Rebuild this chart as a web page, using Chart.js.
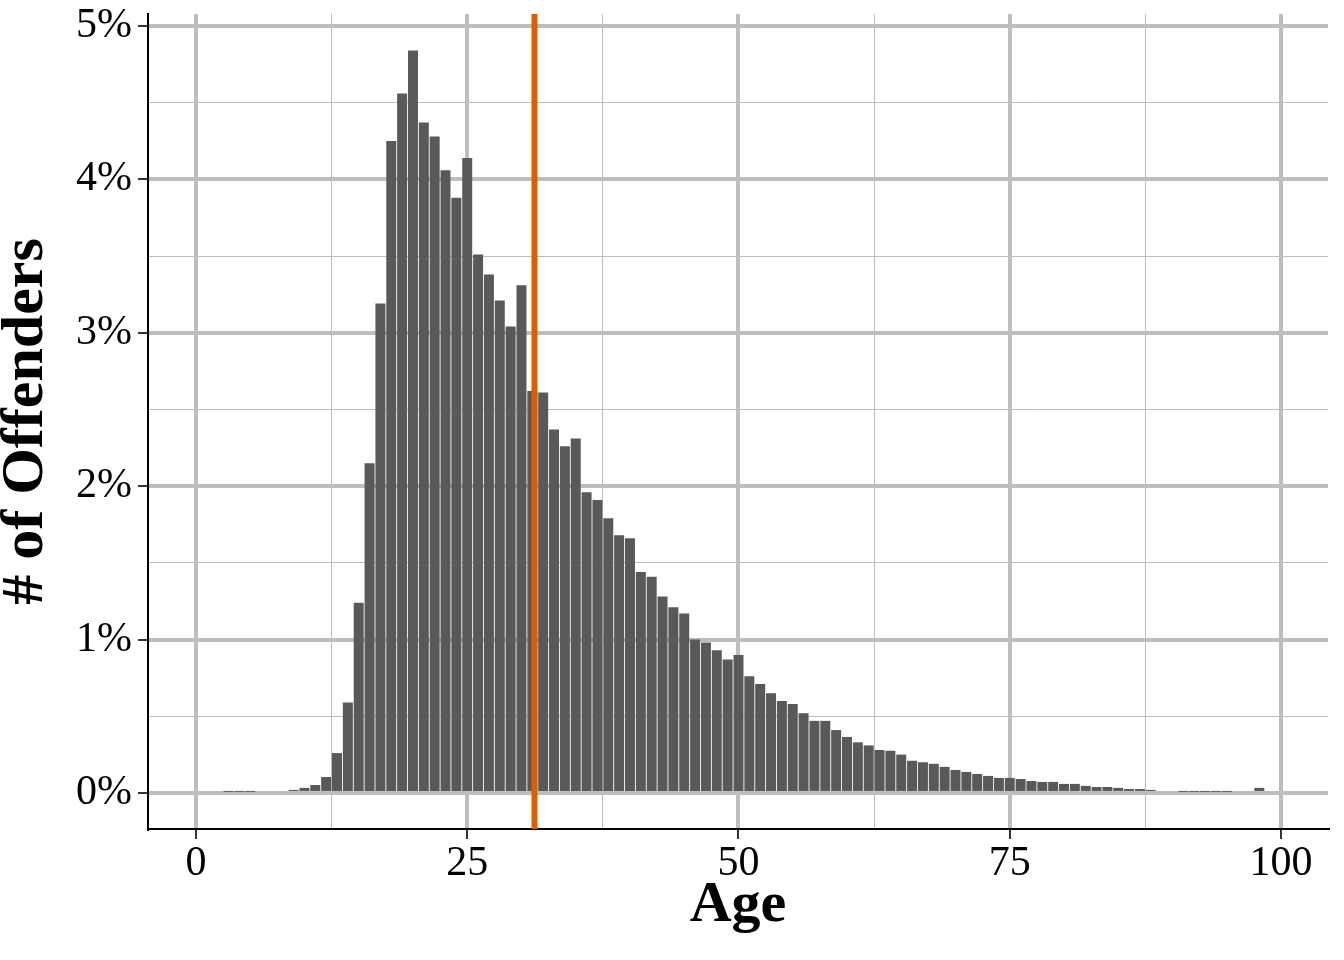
<!DOCTYPE html>
<html>
<head>
<meta charset="utf-8">
<script src="https://cdn.jsdelivr.net/npm/chart.js@4"></script>
<style>
  html, body { margin: 0; padding: 0; background: #fff; }
  canvas { display: block; }
</style>
</head>
<body>
<canvas id="ageChart" width="1344" height="960"></canvas>
<script>
// Offender age distribution (share of offenders, in percent)
const ages = [
  1, 2, 3, 4, 5, 6, 7, 8, 9, 10,
  11, 12, 13, 14, 15, 16, 17, 18, 19, 20,
  21, 22, 23, 24, 25, 26, 27, 28, 29, 30,
  31, 32, 33, 34, 35, 36, 37, 38, 39, 40,
  41, 42, 43, 44, 45, 46, 47, 48, 49, 50,
  51, 52, 53, 54, 55, 56, 57, 58, 59, 60,
  61, 62, 63, 64, 65, 66, 67, 68, 69, 70,
  71, 72, 73, 74, 75, 76, 77, 78, 79, 80,
  81, 82, 83, 84, 85, 86, 87, 88, 89, 90,
  91, 92, 93, 94, 95, 96, 97, 98
];
const offenderShare = [
  0.013, 0, 0.007, 0.007, 0.007, 0.013, 0.013, 0.013, 0.02, 0.033,
  0.052, 0.104, 0.26, 0.59, 1.24, 2.15, 3.19, 4.25, 4.56, 4.84,
  4.37, 4.28, 4.06, 3.88, 4.14, 3.51, 3.38, 3.21, 3.04, 3.31,
  2.62, 2.61, 2.37, 2.26, 2.31, 1.96, 1.91, 1.79, 1.68, 1.66,
  1.44, 1.41, 1.28, 1.21, 1.17, 1.00, 0.98, 0.93, 0.87, 0.90,
  0.76, 0.71, 0.65, 0.60, 0.58, 0.52, 0.47, 0.47, 0.41, 0.365,
  0.33, 0.31, 0.28, 0.275, 0.25, 0.21, 0.20, 0.19, 0.17, 0.15,
  0.137, 0.124, 0.111, 0.098, 0.098, 0.091, 0.078, 0.072, 0.072, 0.059,
  0.059, 0.046, 0.039, 0.039, 0.033, 0.026, 0.026, 0.02, 0.013, 0.013,
  0.007, 0.007, 0.007, 0.007, 0.007, 0, 0, 0.033
];
const meanAge = 31.2;

// gridline positions: labelled ones are major, blank ones minor
const xTicks = [0, 12.5, 25, 37.5, 50, 62.5, 75, 87.5, 100];
const xLabels = ['0', '', '25', '', '50', '', '75', '', '100'];
const yTicks = [0, 0.5, 1, 1.5, 2, 2.5, 3, 3.5, 4, 4.5, 5];
const yLabels = ['0%', '', '1%', '', '2%', '', '3%', '', '4%', '', '5%'];

const xMin = -4.42, xMax = 104.33;
const yMin = -0.235, yMax = 5.078;

const serif = "'Liberation Serif', 'Times New Roman', serif";
const gridGrey = '#bebebe';

function gridFor(labels) {
    return {
        offset: false,
        color: gridGrey,
        lineWidth: ctx => (labels[ctx.index] ? 4 : 1),
        drawTicks: true,
        tickLength: 10,
        tickWidth: 2,
        tickColor: ctx => (labels[ctx.index] ? '#333333' : 'rgba(0,0,0,0)')
    };
}

const ctx = document.getElementById('ageChart').getContext('2d');

new Chart(ctx, {
    type: 'bar',
    data: {
        datasets: [
            {
                type: 'line',
                label: 'Mean age',
                data: [{ x: meanAge, y: yMin }, { x: meanAge, y: yMax }],
                borderColor: '#D95F00',
                borderWidth: 6,
                pointRadius: 0,
                order: 0
            },
            {
                label: 'Offenders',
                data: ages.map((a, i) => ({ x: a, y: offenderShare[i] })),
                backgroundColor: '#595959',
                borderWidth: 0,
                barPercentage: 0.92,
                categoryPercentage: 1.0,
                order: 1
            }
        ]
    },
    options: {
        responsive: false,
        animation: false,
        layout: {
            padding: { left: 0, top: 14, right: 16, bottom: 0 }
        },
        plugins: {
            legend: { display: false },
            tooltip: { enabled: false }
        },
        scales: {
            x: {
                type: 'linear',
                offset: false,
                min: xMin,
                max: xMax,
                afterBuildTicks: scale => {
                    scale.ticks = xTicks.map(v => ({ value: v }));
                },
                afterFit: scale => {
                    scale.height = 131;
                    scale.paddingLeft = 0;
                    scale.paddingRight = 0;
                },
                grid: gridFor(xLabels),
                border: { display: true, color: '#000000', width: 2 },
                ticks: {
                    autoSkip: false,
                    maxRotation: 0,
                    padding: 0,
                    color: '#000000',
                    font: { family: serif, size: 42 },
                    callback: (value, index) => xLabels[index]
                },
                title: {
                    display: true,
                    text: 'Age',
                    color: '#000000',
                    font: { family: serif, size: 58, weight: 'bold', lineHeight: 0.8 },
                    padding: { top: 0, bottom: 31 }
                }
            },
            y: {
                type: 'linear',
                min: yMin,
                max: yMax,
                afterBuildTicks: scale => {
                    scale.ticks = yTicks.map(v => ({ value: v }));
                },
                afterFit: scale => {
                    scale.width = 148;
                    scale.paddingTop = 0;
                    scale.paddingBottom = 0;
                },
                grid: gridFor(yLabels),
                border: { display: true, color: '#000000', width: 2 },
                ticks: {
                    autoSkip: false,
                    padding: 6,
                    color: '#000000',
                    font: { family: serif, size: 42 },
                    callback: (value, index) => yLabels[index]
                },
                title: {
                    display: true,
                    text: '# of Offenders',
                    color: '#000000',
                    font: { family: serif, size: 60, weight: 'bold', lineHeight: 0.8 },
                    padding: { top: 2, bottom: 0 }
                }
            }
        }
    }
});
</script>
</body>
</html>
